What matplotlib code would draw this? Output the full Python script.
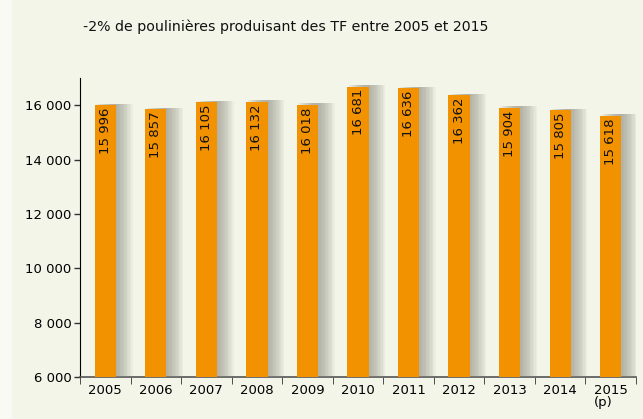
import matplotlib
matplotlib.use("Agg")
import matplotlib.pyplot as plt
import matplotlib.patheffects as pe
import numpy as np

annees = ['2005', '2006', '2007', '2008', '2009', '2010', '2011', '2012', '2013', '2014', '2015\n(p)']
poulinieres = [15996, 15857, 16105, 16132, 16018, 16681, 16636, 16362, 15904, 15805, 15618]

fond = '#f4f5e9'
orange = '#f39200'

fig = plt.figure(figsize=(6.43, 4.19), dpi=100, facecolor=fond)
# petite bande plus claire a gauche
fig.patches.append(plt.Rectangle((0, 0), 11/643, 1, transform=fig.transFigure,
                                 color='#f9faf3', zorder=0))
ax = fig.add_axes([80/643, 1-377/419, (636-80)/643, (377-78)/419])
ax.set_facecolor('none')

x = np.arange(len(annees))
# ombre floue : plusieurs ombres decalees superposees
ombre = [pe.SimplePatchShadow(offset=(d, 1), shadow_rgbFace='#8a8a80', alpha=0.07)
         for d in range(1, 13)] + [pe.Normal()]
barres = ax.bar(x, poulinieres, width=0.42, color=orange, zorder=3)
for b in barres:
    b.set_path_effects(ombre)

def fmt(v):
    return '{:,}'.format(int(v)).replace(',', ' ')

for xi, v in zip(x, poulinieres):
    ax.text(xi, v - 90, fmt(v), rotation=90, ha='center', va='top', fontsize=9.5, color='#111111', zorder=4)

ax.set_xlim(-0.5, len(annees) - 0.5)
ax.set_ylim(6000, 17000)
ax.set_yticks(range(6000, 17000, 2000))
ax.set_yticklabels([fmt(t) for t in range(6000, 17000, 2000)], fontsize=9.5)
ax.set_xticks(x)
ax.set_xticklabels(annees, fontsize=9.5, linespacing=0.9, multialignment='left')
ax.set_xticks(np.arange(-0.5, len(annees)), minor=True)
ax.tick_params(axis='x', which='major', length=0, pad=5)
ax.tick_params(axis='x', which='minor', length=5, color='#333333')
ax.tick_params(axis='y', length=4, width=1, color='#333333', pad=2)

for s in ['top', 'right']:
    ax.spines[s].set_visible(False)
ax.spines['left'].set_color('black')
ax.spines['bottom'].set_color('#555555')
ax.spines['bottom'].set_linewidth(1.2)

fig.text(286/643, 1-27/419, '-2% de poulinières produisant des TF entre 2005 et 2015',
         ha='center', va='center', fontsize=10.2, color='#111111')

fig.savefig('out.png', dpi=100, facecolor=fond)
